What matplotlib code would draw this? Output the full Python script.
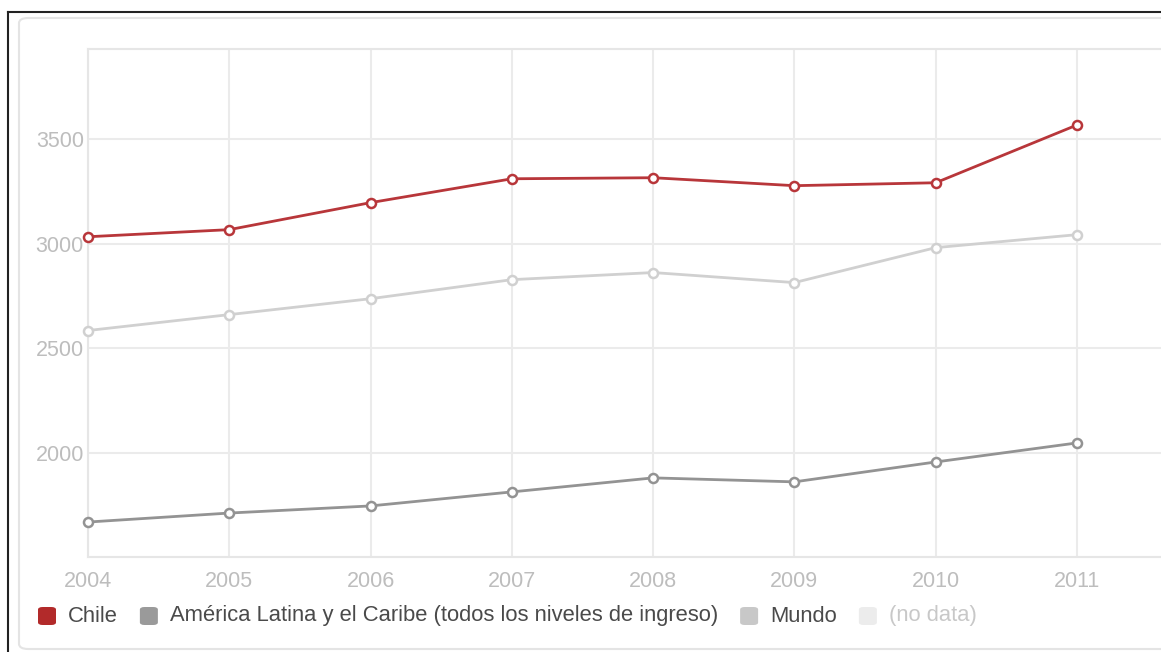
import matplotlib
matplotlib.use("Agg")
import matplotlib.pyplot as plt
import matplotlib.patches as mpatches

# data
years = [2004, 2005, 2006, 2007, 2008, 2009, 2010, 2011]
chile = [3033, 3067, 3196, 3310, 3315, 3277, 3291, 3567]
latam = [1670, 1713, 1747, 1814, 1881, 1862, 1957, 2048]
mundo = [2585, 2661, 2737, 2828, 2862, 2814, 2981, 3043]
y_ticks = [2000, 2500, 3000, 3500]

legend_labels = ["Chile", "América Latina y el Caribe (todos los niveles de ingreso)",
                 "Mundo", "(no data)"]
legend_colors = ["#b22a2a", "#9a9a9a", "#c8c8c8", "#ececec"]
legend_text_colors = ["#4a4a4a", "#4a4a4a", "#4a4a4a", "#c8c8c8"]

plt.rcParams["font.family"] = ["Liberation Sans", "DejaVu Sans"]

W, H = 1161, 652
fig = plt.figure(figsize=(W / 100, H / 100), dpi=100)
fig.patch.set_facecolor("white")

# outer screenshot frame (black top/left edge) and rounded panel
fig.add_artist(plt.Line2D([8 / W, 8 / W], [0, 1 - 12 / H], color="#222222", lw=1.5,
                          transform=fig.transFigure, zorder=-2))
fig.add_artist(plt.Line2D([8 / W, 1], [1 - 12 / H, 1 - 12 / H], color="#222222", lw=1.5,
                          transform=fig.transFigure, zorder=-2))
panel = mpatches.FancyBboxPatch((19 / W, 3 / H), 1.2, 1 - 21 / H,
                                boxstyle="round,pad=0,rounding_size=0.008",
                                transform=fig.transFigure, facecolor="white",
                                edgecolor="#e4e4e4", lw=1.5, zorder=-1)
fig.add_artist(panel)

# plot area in pixels: x 88 -> 1161, y 49 -> 557
x0, x1, ytop, ybot = 88, 1161, 49, 557
ax = fig.add_axes([x0 / W, 1 - ybot / H, (x1 - x0) / W, (ybot - ytop) / H])
ax.set_zorder(1)
px_per_year = (1077 - 88) / 7
ax.set_xlim(2004, 2011 + (x1 - 1077) / px_per_year)
ax.set_ylim(1503, 3930)
ax.set_facecolor("none")

ax.set_xticks(years)
ax.set_xticklabels([str(y) for y in years])
ax.set_yticks(y_ticks)
ax.grid(True, color="#ebebeb", lw=1.5)
ax.set_axisbelow(True)
for side, sp in ax.spines.items():
    sp.set_color("#e6e6e6")
    sp.set_linewidth(1.5)
ax.spines["right"].set_visible(False)
ax.tick_params(length=0, labelsize=15.5, labelcolor="#bdbdbd")
ax.tick_params(axis="y", pad=3)
ax.tick_params(axis="x", pad=10)


def draw(vals, color):
    ax.plot(years, vals, color=color, lw=2, marker="o", ms=6.5,
            markerfacecolor="white", markeredgecolor=color, markeredgewidth=1.8,
            clip_on=False, zorder=3)


draw(mundo, "#d0d0d0")
draw(latam, "#939393")
draw(chile, "#b8363a")

# legend drawn as rounded swatches + text, laid out left to right
fig.canvas.draw()
renderer = fig.canvas.get_renderer()
x = 38
yc = 616
sq = 18
for label, c, tc in zip(legend_labels, legend_colors, legend_text_colors):
    box = mpatches.FancyBboxPatch((x / W, 1 - (yc + sq / 2) / H), sq / W, sq / H,
                                  boxstyle="round,pad=0,rounding_size=0.004",
                                  transform=fig.transFigure, facecolor=c,
                                  edgecolor="none", zorder=2)
    fig.add_artist(box)
    t = fig.text((x + sq + 12) / W, 1 - yc / H, label, fontsize=15.8, color=tc,
                 va="center", ha="left", zorder=2)
    bb = t.get_window_extent(renderer)
    x = bb.x1 + 22

fig.savefig("out.png", dpi=100, facecolor="white")
